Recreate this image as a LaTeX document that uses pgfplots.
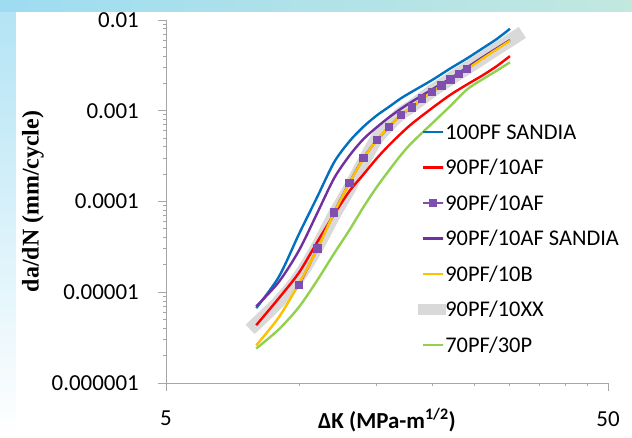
\documentclass[border=0pt]{standalone}
\usepackage{pgfplots}
\pgfplotsset{compat=1.18}
\usepackage{fontspec}
\setmainfont{Carlito}
\newfontfamily\labelserif{Liberation Serif}
\definecolor{cblue}{HTML}{0070C0}
\definecolor{cred}{HTML}{FF0000}
\definecolor{cpurple}{HTML}{7030A0}
\definecolor{cmark}{HTML}{7F4FB0}
\definecolor{corange}{HTML}{FFC000}
\definecolor{cgray}{HTML}{D9D9D9}
\definecolor{cgreen}{HTML}{92D050}
\definecolor{caxis}{HTML}{A6A6A6}
\definecolor{bgblue}{HTML}{9EDCF2}
\definecolor{bgteal}{HTML}{C2E8DF}
\begin{document}
\begin{tikzpicture}
\path[use as bounding box] (-166bp,-55bp) rectangle (466bp,383bp);
\shade[top color=bgblue!80, bottom color=white] (-166bp,-55bp) rectangle (466bp,383bp);
\shade[left color=bgblue, right color=bgteal] (-166bp,371bp) rectangle (466bp,383bp);
\fill[white] (-150bp,-55bp) rectangle (466bp,371bp);
\begin{axis}[
  at={(0,0)}, anchor=south west, scale only axis, width=442bp, height=363bp,
  xmode=log, ymode=log, xmin=5, xmax=50, ymin=1e-6, ymax=1e-2,
  axis lines=left, axis line style={caxis, line width=1bp, -},
  xtick={5,50}, xticklabels={5,50},
  ytick={1e-6,1e-5,1e-4,1e-3,1e-2},
  yticklabels={0.000001,0.00001,0.0001,0.001,0.01},
  minor xtick={}, minor ytick={},
  tick align=outside, major tick length=8bp, tick style={caxis, line width=1bp},
  tick label style={font=\fontsize{23}{27}\selectfont, inner sep=0pt},
  yticklabel style={anchor=east, xshift=-19bp},
  xticklabel style={anchor=north, yshift=-20bp},
  xlabel={ΔK (MPa-m\textsuperscript{1/2})},
  xlabel style={font=\bfseries\fontsize{23}{27}\selectfont, at={(axis description cs:0.5,0)}, anchor=base, yshift=-45bp, inner sep=0pt},
  ylabel={da/dN (mm/cycle)},
  ylabel style={font=\labelserif\bfseries\fontsize{24}{28}\selectfont, at={(axis description cs:-0.3009,0.5)}, anchor=center, inner sep=0pt},
  legend style={at={(axis description cs:0.5785,0.7191)}, anchor=north west, draw=none, fill=none, inner sep=0pt, row sep=16.05bp, column sep=1bp, font=\fontsize{22.5}{27}\selectfont, nodes={inner sep=0pt, text height=17bp, text depth=2.5bp}},
  legend cell align=left,
  legend image code/.code={\path (0bp,0bp) rectangle (20bp,0bp); \draw[overlay, mark repeat=2, mark phase=2, #1] plot coordinates {(0bp,0bp) (10bp,0bp) (20bp,0bp)};},
  every axis plot/.append style={line width=2.4bp},
]
% 90PF/10XX (thick gray band, drawn first, behind)
\addplot[cgray, line width=13bp, smooth, forget plot] coordinates {
 (7.75,3.9e-6) (9,7.9e-6) (10,1.48e-5) (11,3.17e-5) (12,7.1e-5) (13,1.39e-4)
 (14,2.74e-4) (15,4.95e-4) (16,7.0e-4) (17,9.35e-4) (18,1.12e-3) (20,1.65e-3)
 (22,2.25e-3) (24,2.95e-3) (26,3.8e-3) (28,4.8e-3) (30,5.95e-3) (32,7.3e-3)};
% 100PF SANDIA
\addplot[cblue, smooth] coordinates {
 (8,6.7e-6) (9,1.48e-5) (10,4.4e-5) (11,1.13e-4) (12,2.7e-4) (13,4.6e-4)
 (14,6.7e-4) (15,8.9e-4) (16,1.11e-3) (17,1.37e-3) (18,1.62e-3) (20,2.18e-3)
 (22,2.93e-3) (24,3.78e-3) (26,4.87e-3) (28,6.17e-3) (30,8.0e-3)};
\addlegendentry{100PF SANDIA}
% 90PF/10AF
\addplot[cred, smooth] coordinates {
 (8,4.34e-6) (9,8.6e-6) (10,1.65e-5) (11,3.6e-5) (12,7.2e-5) (13,1.3e-4)
 (14,2.0e-4) (15,3.0e-4) (16,4.2e-4) (17,5.6e-4) (18,7.2e-4) (20,1.07e-3)
 (22,1.5e-3) (24,1.95e-3) (26,2.45e-3) (28,3.1e-3) (30,4.0e-3)};
\addlegendentry{90PF/10AF}
% 90PF/10AF with markers
\addplot[cmark, smooth, mark=square*, mark size=3bp, mark options={solid}] coordinates {
 (10,1.2e-5) (11,3.04e-5) (12,7.57e-5) (13,1.61e-4) (14,3.03e-4) (15,4.75e-4)
 (16,6.67e-4) (17,8.97e-4) (18,1.09e-3) (19,1.36e-3) (20,1.62e-3) (21,1.89e-3)
 (22,2.22e-3) (23,2.54e-3) (24,2.88e-3)};
\addlegendentry{90PF/10AF}
% 90PF/10AF SANDIA
\addplot[cpurple, smooth] coordinates {
 (8,7.0e-6) (9,1.3e-5) (10,2.9e-5) (11,7.5e-5) (12,1.8e-4) (13,3.2e-4)
 (14,4.9e-4) (15,6.6e-4) (16,8.5e-4) (17,1.05e-3) (18,1.26e-3) (20,1.72e-3)
 (22,2.27e-3) (24,3.0e-3) (26,3.88e-3) (28,4.87e-3) (30,6.0e-3)};
\addlegendentry{90PF/10AF SANDIA}
% 90PF/10B
\addplot[corange, smooth] coordinates {
 (8,2.6e-6) (9,5.3e-6) (10,1.25e-5) (11,3.0e-5) (12,7.5e-5) (13,1.6e-4)
 (14,3.0e-4) (15,4.75e-4) (16,6.7e-4) (17,9.0e-4) (18,1.1e-3) (19,1.36e-3)
 (20,1.62e-3) (22,2.22e-3) (24,2.88e-3) (26,3.75e-3) (28,4.75e-3) (30,5.9e-3)};
\addlegendentry{90PF/10B}
\addlegendimage{legend image code/.code={\path (0bp,0bp) rectangle (20bp,0bp); \draw[overlay, cgray, line width=11bp] (-4.7bp,0bp) -- (23.3bp,0bp);}}
\addlegendentry{90PF/10XX}
% 70PF/30P
\addplot[cgreen, smooth] coordinates {
 (8,2.4e-6) (9,3.9e-6) (10,6.9e-6) (11,1.36e-5) (12,2.67e-5) (13,4.84e-5)
 (14,8.75e-5) (15,1.45e-4) (16,2.22e-4) (17,3.25e-4) (18,4.45e-4) (20,7.26e-4)
 (22,1.13e-3) (24,1.72e-3) (26,2.22e-3) (28,2.76e-3) (30,3.42e-3)};
\addlegendentry{70PF/30P}
\end{axis}
\end{tikzpicture}
\end{document}
